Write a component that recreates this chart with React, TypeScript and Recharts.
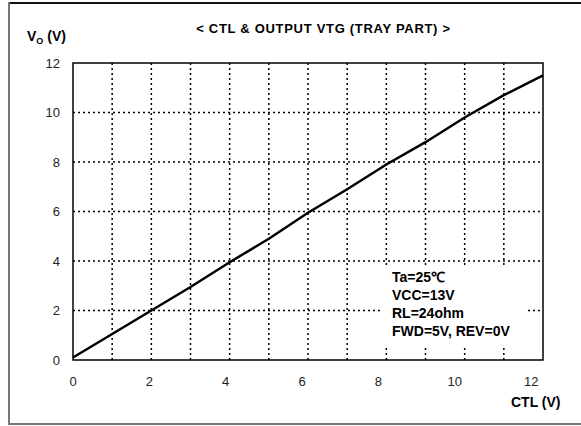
import React from "react";
import { LineChart, Line, XAxis, YAxis, ReferenceLine, ReferenceArea } from "recharts";

// CTL voltage (V) and output voltage
const ctl = [0, 1, 2, 3, 4, 5, 6, 7, 8, 9, 10, 11, 12];
const vout = [0.1, 1.05, 2, 2.95, 3.95, 4.9, 5.95, 6.9, 7.9, 8.8, 9.8, 10.7, 11.5];

const xTickLabels = [0, 2, 4, 6, 8, 10, 12];
const yTickLabels = [0, 2, 4, 6, 8, 10, 12];
const xGrid = [1, 2, 3, 4, 5, 6, 7, 8, 9, 10, 11];
const yGrid = [2, 4, 6, 8, 10];

const notes = ["Ta=25\u2103", "VCC=13V", "RL=24ohm", "FWD=5V, REV=0V"];

const data = ctl.map((c, i) => ({ ctl: c, vo: vout[i] }));

const FONT = "'Liberation Sans', Arial, sans-serif";

export default function App() {
  return (
    <div style={{ position: "absolute", left: 0, top: 0, width: 581, height: 426, background: "#fff", fontFamily: FONT }}>
      {/* outer frame (cropped on the right) */}
      <div style={{ position: "absolute", left: 9, top: 2, width: 572, height: 0, borderTop: "2px solid #111" }} />
      <div style={{ position: "absolute", left: 8, top: 2, width: 0, height: 423, borderLeft: "2px solid #777" }} />
      <div style={{ position: "absolute", left: 9, top: 423, width: 572, height: 0, borderTop: "2px solid #777" }} />

      <LineChart width={581} height={426} data={data} margin={{ top: 63, right: 38, bottom: 36, left: 13 }}>
        <XAxis xAxisId="main" dataKey="ctl" type="number" domain={[0, 12]} hide />
        <XAxis
          xAxisId="lab"
          dataKey="ctl"
          type="number"
          domain={[0, 12.31]}
          allowDataOverflow
          ticks={xTickLabels}
          axisLine={false}
          tickLine={false}
          tickMargin={11}
          height={30}
          tick={{ fill: "#222", fontSize: 13, fontFamily: FONT }}
        />
        <YAxis
          type="number"
          domain={[0, 12]}
          ticks={yTickLabels}
          axisLine={false}
          tickLine={false}
          tickMargin={7}
          width={60}
          tick={{ fill: "#222", fontSize: 13, fontFamily: FONT }}
        />
        {xGrid.map((v) => (
          <ReferenceLine key={"x" + v} xAxisId="main" x={v} stroke="#000" strokeWidth={1.5} strokeDasharray="2 3" />
        ))}
        {yGrid.map((v) => (
          <ReferenceLine key={"y" + v} xAxisId="main" y={v} stroke="#000" strokeWidth={1.5} strokeDasharray="2 3" />
        ))}
        <Line
          xAxisId="main"
          type="linear"
          dataKey="vo"
          stroke="#000"
          strokeWidth={2.5}
          dot={false}
          isAnimationActive={false}
        />
        <ReferenceArea xAxisId="main" x1={0} x2={12} y1={0} y2={12} fill="none" fillOpacity={0} stroke="#000" strokeWidth={1.5} />
      </LineChart>

      <div style={{ position: "absolute", left: 0, top: 21, width: 647, textAlign: "center", fontSize: 13, fontWeight: "bold", letterSpacing: 0.7, whiteSpace: "nowrap" }}>
        {"< CTL & OUTPUT VTG (TRAY PART) >"}
      </div>
      <div style={{ position: "absolute", left: 27, top: 28, fontSize: 14, fontWeight: "bold", whiteSpace: "nowrap", lineHeight: "16px" }}>
        V<sub style={{ fontSize: 9, verticalAlign: "-3px" }}>O</sub> (V)
      </div>
      <div style={{ position: "absolute", left: 511, top: 394, fontSize: 14, fontWeight: "bold", whiteSpace: "nowrap", lineHeight: "16px" }}>
        CTL (V)
      </div>
      {/* legend box blanks the grid behind the test conditions */}
      <div style={{ position: "absolute", left: 383, top: 265, width: 142, height: 83, background: "#fff" }} />
      <div style={{ position: "absolute", left: 392, top: 268, fontSize: 14, fontWeight: "bold", lineHeight: "18px", whiteSpace: "nowrap" }}>
        {notes.map((n) => (
          <div key={n}>{n}</div>
        ))}
      </div>
    </div>
  );
}
